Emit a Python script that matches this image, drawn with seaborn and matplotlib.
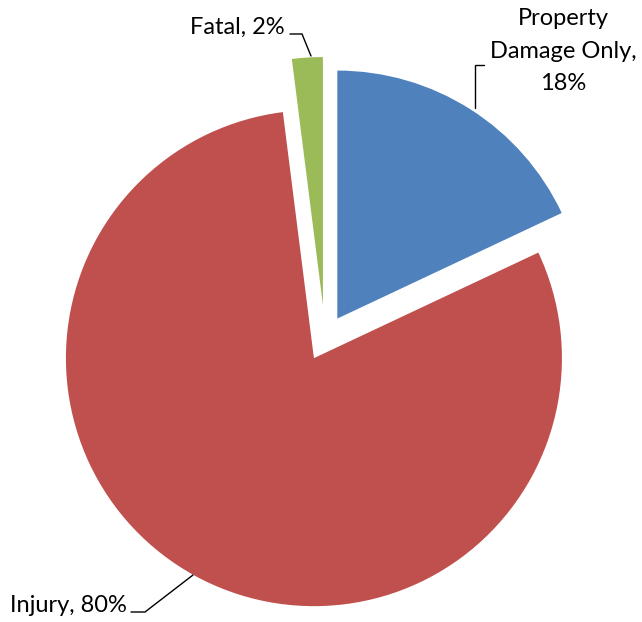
import matplotlib
matplotlib.use("Agg")
import matplotlib.pyplot as plt
import seaborn as sns

# data
categories = ["Property Damage Only", "Injury", "Fatal"]
shares = [18, 80, 2]
colors = ["#4F81BD", "#C0504D", "#9BBB59"]

sns.set_theme(style="white")
plt.rcParams["font.family"] = ["Lato", "DejaVu Sans"]

W, H = 642, 622
fig = plt.figure(figsize=(W / 100, H / 100), dpi=100)
ax = fig.add_axes([0, 0, 1, 1])

# pie drawn in pixel-like units (y measured from the bottom)
ax.pie(
    shares,
    colors=colors,
    startangle=90,
    counterclock=False,
    explode=[23, 23, 33],
    center=(325, H - 338),
    radius=248,
    wedgeprops=dict(linewidth=0),
)
ax.set_xlim(0, W)
ax.set_ylim(0, H)
ax.set_aspect("equal")
ax.axis("off")

labels = {
    "Property Damage Only": "Property\nDamage Only,\n{}%",
    "Injury": "Injury, {}%",
    "Fatal": "Fatal, {}%",
}
# text position, alignment, leader line (top-down pixel coords)
layout = {
    "Property Damage Only": ((563, 51), "center", [(484, 65), (475, 65), (475, 108)]),
    "Injury": ((10, 605), "left", [(131, 612), (145, 612), (193, 575)]),
    "Fatal": ((285, 27), "right", [(290, 34), (302, 34), (311, 56)]),
}

for cat, share in zip(categories, shares):
    (tx, ty), ha, leader = layout[cat]
    ax.text(tx, H - ty, labels[cat].format(share), ha=ha, va="center",
            fontsize=17, color="black", linespacing=1.65, multialignment="center")
    ax.plot([p[0] for p in leader], [H - p[1] for p in leader],
            color="black", linewidth=1.0, solid_joinstyle="miter")

fig.savefig("out.png", dpi=100)
